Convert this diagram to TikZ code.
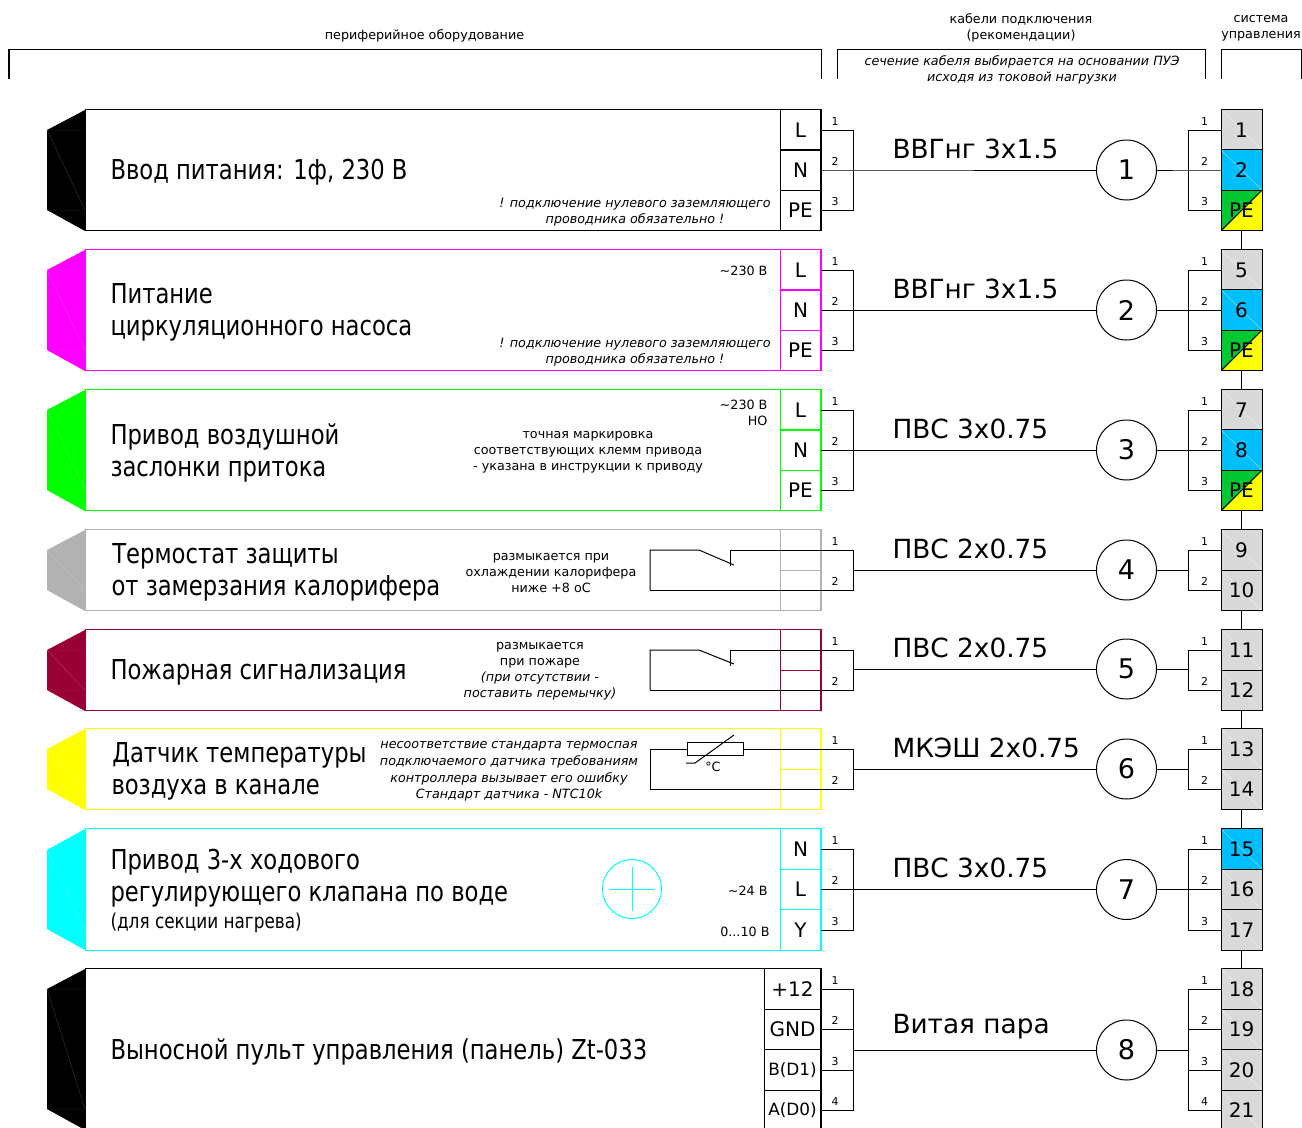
\documentclass[tikz,border=0pt]{standalone}
\usepackage{fontspec}
\setmainfont{DejaVu Sans}
\newfontfamily\titlefont[FakeStretch=.92]{DejaVu Sans Condensed}
\usetikzlibrary{positioning,calc}
\definecolor{fireRed}{HTML}{990033}
\definecolor{greyRow}{HTML}{B2B2B2}
\definecolor{pinkRow}{HTML}{FF00FF}
\definecolor{greenRow}{HTML}{00FF00}
\definecolor{yellowRow}{HTML}{FFFF00}
\definecolor{cyanRow}{HTML}{00FFFF}
\definecolor{cellGrey}{HTML}{D9D9D9}
\definecolor{cellBlue}{HTML}{00BFFF}
\definecolor{cellGreen}{HTML}{00C832}
\newcommand{\smallf}{\fontsize{7.25}{9.1}\selectfont}
\tikzset{
	rowbox/.style={draw,fill=white,anchor=north west,minimum width=14.72cm,inner sep=0,outer sep=0},
	cellbox/.style={draw,minimum width=.82cm,minimum height=.81cm,inner sep=0,outer sep=0,font=\fontsize{11.4}{13}\selectfont},
	widecell/.style={cellbox,minimum width=1.14cm},
	termcell/.style={cellbox,draw=black,fill=cellGrey,path picture={\draw[white,opacity=.5,line width=.3pt] (path picture bounding box.north west) -- (path picture bounding box.south east);}},
	bluecell/.style={termcell,fill=cellBlue},
	pecell/.style={cellbox,draw=black,path picture={
		\fill[yellowRow] (path picture bounding box.north west) rectangle (path picture bounding box.south east);
		\fill[cellGreen] (path picture bounding box.north west) -- (path picture bounding box.north east) -- (path picture bounding box.south west) -- cycle;
		\draw[black] (path picture bounding box.north east) -- (path picture bounding box.south west);}},
	wirecirc/.style={draw,circle,fill=white,minimum size=1.2cm,inner sep=0,outer sep=0,font=\fontsize{15.4}{18}\selectfont},
	titletext/.style={anchor=west,align=left,inner sep=0,font=\titlefont\fontsize{15.6}{18.2}\selectfont},
	cabletext/.style={anchor=west,inner sep=0,font=\fontsize{15}{18}\selectfont},
	notetext/.style={align=center,inner sep=0,font=\smallf},
	notert/.style={align=right,anchor=east,inner sep=0,font=\smallf},
	wirenum/.style={above=2.4pt,inner sep=0,font=\fontsize{6.2}{7}\selectfont},
}
\newcommand{\drawcirc}{\node[wirecirc]}
\newcommand{\drawcell}{\node[cellbox]}
\newcommand{\drawterm}{\node[termcell]}
% colour, then y of the four corners
\newcommand{\drawwedge}[5]{
	\fill[#1] (85,#2) -- (47,#3) -- (47,#4) -- (85,#5) -- cycle;
	\draw[white,opacity=.2,line width=.25pt] (47,#3) -- (85,#3) (47,#3) -- (85,#4) -- (47,#4);
}

\begin{document}
\begin{tikzpicture}[x=.02cm,y=-.02cm,line width=.57pt]
	\useasboundingbox (0,0) rectangle (1302,1127);
	\clip (0,0) rectangle (1302,1127);

	%header
	\draw (9,79) -- (9,49) -- (821,49) -- (821,79);
	\draw (837,79) -- (837,49) -- (1205,49) -- (1205,79);
	\draw (1221,79) -- (1221,49) -- (1301,49) -- (1301,79);
	\node[notetext] (headperi) at (424.5,36) {периферийное оборудование};
	\node[notetext] (headcable) at (1021,28) {кабели подключения\\(рекомендации)};
	\node[notetext] (headsys) at (1261,28) {система\\управления};
	\node[notetext,font=\smallf\itshape] (headnote) at (1022,70) {сечение кабеля выбирается на основании ПУЭ\\исходя из токовой нагрузки};

	%row 1
	\drawwedge{black}{110}{130}{210}{231}
	\node[rowbox,minimum height=2.42cm] (body1) at (85,109.75) {};
	\drawcell (la1) at (800.5,130) {L};
	\drawcell (lb1) at (800.5,170) {N};
	\drawcell (lc1) at (800.5,210.5) {PE};
	\node[titletext] (title1) at (110,172) {Ввод питания: 1ф, 230 В};
	\node[notetext,font=\smallf\itshape] (note1) at (635,212) {! подключение нулевого заземляющего\\проводника обязательно !};
	\node[cabletext] (cable1) at (892,149) {ВВГнг 3х1.5};
	\drawcirc (c1) at (1126.5,170) {1};
	\drawterm (ra1) at (1241.5,130) {1};
	\node[bluecell] (rb1) at (1241.5,170) {2};
	\node[pecell] (rc1) at (1241.5,210.5) {PE};
	\coordinate (busl1) at (853,170);
	\coordinate (busr1) at (1188,170);
	\draw (la1.east) -| node[wirenum,pos=.22] (wla1) {1} (busl1);
	\draw (lb1.east) -- node[wirenum,pos=.44] (wlb1) {2} (busl1) -- (c1);
	\draw (lc1.east) -| node[wirenum,pos=.22] (wlc1) {3} (busl1);
	\draw (ra1.west) -| node[wirenum,pos=.25] (wra1) {1} (busr1);
	\draw (rb1.west) -- node[wirenum] (wrb1) {2} (busr1) -- (c1);
	\draw (rc1.west) -| node[wirenum,pos=.25] (wrc1) {3} (busr1);

	%row 2
	\drawwedge{pinkRow}{250}{270}{350}{371}
	\node[rowbox,draw=pinkRow,minimum height=2.42cm] (body2) at (85,249.75) {};
	\drawcell[draw=pinkRow] (la2) at (800.5,270) {L};
	\drawcell[draw=pinkRow] (lb2) at (800.5,310) {N};
	\drawcell[draw=pinkRow] (lc2) at (800.5,350.5) {PE};
	\node[titletext] (title2) at (110,312) {Питание\\циркуляционного насоса};
	\node[notert] (volt2) at (768,271) {\textasciitilde230 В};
	\node[notetext,font=\smallf\itshape] (note2) at (635,352) {! подключение нулевого заземляющего\\проводника обязательно !};
	\node[cabletext] (cable2) at (892,289) {ВВГнг 3х1.5};
	\drawcirc (c2) at (1126.5,310) {2};
	\drawterm (ra2) at (1241.5,270) {5};
	\node[bluecell] (rb2) at (1241.5,310) {6};
	\node[pecell] (rc2) at (1241.5,350.5) {PE};
	\coordinate (busl2) at (853,310);
	\coordinate (busr2) at (1188,310);
	\draw (la2.east) -| node[wirenum,pos=.22] (wla2) {1} (busl2);
	\draw (lb2.east) -- node[wirenum,pos=.44] (wlb2) {2} (busl2) -- (c2);
	\draw (lc2.east) -| node[wirenum,pos=.22] (wlc2) {3} (busl2);
	\draw (ra2.west) -| node[wirenum,pos=.25] (wra2) {1} (busr2);
	\draw (rb2.west) -- node[wirenum] (wrb2) {2} (busr2) -- (c2);
	\draw (rc2.west) -| node[wirenum,pos=.25] (wrc2) {3} (busr2);
	\draw (rc1.south) -- (ra2.north);

	%row 3
	\drawwedge{greenRow}{390}{410}{490}{511}
	\node[rowbox,draw=greenRow,minimum height=2.42cm] (body3) at (85,389.75) {};
	\drawcell[draw=greenRow] (la3) at (800.5,410) {L};
	\drawcell[draw=greenRow] (lb3) at (800.5,450) {N};
	\drawcell[draw=greenRow] (lc3) at (800.5,490.5) {PE};
	\node[titletext] (title3) at (110,453) {Привод воздушной\\заслонки притока};
	\node[notert] (volt3) at (768,413) {\textasciitilde230 В\\НО};
	\node[notetext] (note3) at (588,452) {точная маркировка\\соответствующих клемм привода\\- указана в инструкции к приводу};
	\node[cabletext] (cable3) at (892,429) {ПВС 3х0.75};
	\drawcirc (c3) at (1126.5,450) {3};
	\drawterm (ra3) at (1241.5,410) {7};
	\node[bluecell] (rb3) at (1241.5,450) {8};
	\node[pecell] (rc3) at (1241.5,490.5) {PE};
	\coordinate (busl3) at (853,450);
	\coordinate (busr3) at (1188,450);
	\draw (la3.east) -| node[wirenum,pos=.22] (wla3) {1} (busl3);
	\draw (lb3.east) -- node[wirenum,pos=.44] (wlb3) {2} (busl3) -- (c3);
	\draw (lc3.east) -| node[wirenum,pos=.22] (wlc3) {3} (busl3);
	\draw (ra3.west) -| node[wirenum,pos=.25] (wra3) {1} (busr3);
	\draw (rb3.west) -- node[wirenum] (wrb3) {2} (busr3) -- (c3);
	\draw (rc3.west) -| node[wirenum,pos=.25] (wrc3) {3} (busr3);
	\draw (rc2.south) -- (ra3.north);

	%row 4
	\drawwedge{greyRow}{530}{550}{590}{611}
	\node[rowbox,draw=greyRow,minimum height=1.62cm] (body4) at (85,529.75) {};
	\drawcell[draw=greyRow] (la4) at (800.5,550) {};
	\drawcell[draw=greyRow] (lb4) at (800.5,590.5) {};
	\node[titletext] (title4) at (111,572) {\hspace{.5pt}Термостат защиты\\от замерзания калорифера};
	\node[notetext] (note4) at (551,573) {размыкается при\\охлаждении калорифера\\ниже +8 оС};
	\node[cabletext] (cable4) at (892,549) {ПВС 2х0.75};
	\drawcirc (c4) at (1126.5,570) {4};
	\drawterm (ra4) at (1241.5,550) {9};
	\drawterm (rb4) at (1241.5,590.5) {10};
	\coordinate (busl4) at (853,570);
	\coordinate (busr4) at (1188,570);
	\coordinate (swa4) at (730,550);
	\coordinate (swb4) at (650,590);
	\draw (swa4) -| node[wirenum,pos=.427] (wla4) {1} (busl4);
	\draw (swb4) -| node[wirenum,pos=.456] (wlb4) {2} (busl4) -- (c4);
	\draw (swb4) -- (650,550) -- (699,550) -- (734,565);
	\draw (swa4) -- (730,566);
	\draw (ra4.west) -| node[wirenum,pos=.25] (wra4) {1} (busr4);
	\draw (rb4.west) -| node[wirenum,pos=.25] (wrb4) {2} (busr4) -- (c4);
	\draw (rc3.south) -- (ra4.north);

	%row 5
	\drawwedge{fireRed}{630}{650}{690}{711}
	\node[rowbox,draw=fireRed,minimum height=1.62cm] (body5) at (85,629.75) {};
	\drawcell[draw=fireRed] (la5) at (800.5,650) {};
	\drawcell[draw=fireRed] (lb5) at (800.5,690.5) {};
	\node[titletext] (title5) at (110,672) {Пожарная сигнализация};
	\node[notetext] (note5) at (540,671.5) {размыкается\\при пожаре\\{\itshape (при отсутствии -}\\{\itshape поставить перемычку)}};
	\node[cabletext] (cable5) at (892,648) {ПВС 2х0.75};
	\drawcirc (c5) at (1126.5,669) {5};
	\drawterm (ra5) at (1241.5,650) {11};
	\drawterm (rb5) at (1241.5,690.5) {12};
	\coordinate (busl5) at (853,669);
	\coordinate (busr5) at (1188,669);
	\coordinate (swa5) at (730,650);
	\coordinate (swb5) at (650,690);
	\draw (swa5) -| node[wirenum,pos=.427] (wla5) {1} (busl5);
	\draw (swb5) -| node[wirenum,pos=.456] (wlb5) {2} (busl5) -- (c5);
	\draw (swb5) -- (650,650) -- (699,650) -- (734,664);
	\draw (swa5) -- (730,666);
	\draw (ra5.west) -| node[wirenum,pos=.25] (wra5) {1} (busr5);
	\draw (rb5.west) -| node[wirenum,pos=.25] (wrb5) {2} (busr5) -- (c5);
	\draw (rb4.south) -- (ra5.north);

	%row 6
	\drawwedge{yellowRow}{729}{749}{789}{810}
	\node[rowbox,draw=yellowRow,minimum height=1.62cm] (body6) at (85,728.75) {};
	\drawcell[draw=yellowRow] (la6) at (800.5,749) {};
	\drawcell[draw=yellowRow] (lb6) at (800.5,789.5) {};
	\node[titletext] (title6) at (111,771) {\hspace{.5pt}Датчик температуры\\воздуха в канале};
	\node[notetext,font=\fontsize{7.25}{9.4}\selectfont\itshape] (note6) at (509,771.5) {несоответствие стандарта термоспая\\подключаемого датчика требованиям\\контроллера вызывает его ошибку\\Стандарт датчика - NTC10k};
	\node[cabletext] (cable6) at (892,748) {МКЭШ 2х0.75};
	\drawcirc (c6) at (1126.5,769) {6};
	\drawterm (ra6) at (1241.5,749) {13};
	\drawterm (rb6) at (1241.5,789.5) {14};
	\coordinate (busl6) at (853,769);
	\coordinate (busr6) at (1188,769);
	\node[draw,minimum width=1.12cm,minimum height=.27cm,inner sep=0,outer sep=0] (therm6) at (715,749) {};
	\coordinate (swb6) at (650,789);
	\draw (therm6.east) -| node[wirenum,pos=.418] (wla6) {1} (busl6);
	\draw (swb6) -| node[wirenum,pos=.456] (wlb6) {2} (busl6) -- (c6);
	\draw (swb6) -- (650,749) -- (therm6.west);
	\draw (686,763) -- (695,763) -- (734,735);
	\node[notetext] (unit6) at (713,767) {°C};
	\draw (ra6.west) -| node[wirenum,pos=.25] (wra6) {1} (busr6);
	\draw (rb6.west) -| node[wirenum,pos=.25] (wrb6) {2} (busr6) -- (c6);
	\draw (rb5.south) -- (ra6.north);

	%row 7
	\drawwedge{cyanRow}{829}{850}{929}{950}
	\node[rowbox,draw=cyanRow,minimum height=2.43cm] (body7) at (85,828.75) {};
	\drawcell[draw=cyanRow] (la7) at (800.5,849) {N};
	\drawcell[draw=cyanRow] (lb7) at (800.5,889.5) {L};
	\drawcell[draw=cyanRow] (lc7) at (800.5,930) {Y};
	\node[titletext] (title7) at (110,878) {Привод 3-х ходового\\регулирующего клапана по воде};
	\node[titletext,font=\titlefont\fontsize{11.6}{14}\selectfont] (sub7) at (110,923) {(для секции нагрева)};
	\node[draw=cyanRow,circle,minimum size=1.18cm,inner sep=0] (valve7) at (632,889) {};
	\draw[cyanRow] ($(valve7.center)+(-22,0)$) -- ($(valve7.center)+(22,0)$);
	\draw[cyanRow] ($(valve7.center)+(0,-22)$) -- ($(valve7.center)+(0,22)$);
	\node[notert] (volt7) at (768,891) {\textasciitilde24 В};
	\node[notert] (range7) at (770,932) {0...10 В};
	\node[cabletext] (cable7) at (892,868) {ПВС 3х0.75};
	\drawcirc (c7) at (1126.5,889.5) {7};
	\node[bluecell] (ra7) at (1241.5,849) {15};
	\drawterm (rb7) at (1241.5,889.5) {16};
	\drawterm (rc7) at (1241.5,930) {17};
	\coordinate (busl7) at (853,889.5);
	\coordinate (busr7) at (1188,889.5);
	\draw (la7.east) -| node[wirenum,pos=.22] (wla7) {1} (busl7);
	\draw (lb7.east) -- node[wirenum,pos=.44] (wlb7) {2} (busl7) -- (c7);
	\draw (lc7.east) -| node[wirenum,pos=.22] (wlc7) {3} (busl7);
	\draw (ra7.west) -| node[wirenum,pos=.25] (wra7) {1} (busr7);
	\draw (rb7.west) -- node[wirenum] (wrb7) {2} (busr7) -- (c7);
	\draw (rc7.west) -| node[wirenum,pos=.25] (wrc7) {3} (busr7);
	\draw (rb6.south) -- (ra7.north);

	%row 8
	\drawwedge{black}{969}{989}{1109}{1130}
	\node[rowbox,minimum height=3.24cm] (body8) at (85,968.75) {};
	\node[widecell] (la8) at (792.5,989) {+12};
	\node[widecell] (lb8) at (792.5,1029.5) {GND};
	\node[widecell,font=\fontsize{9.6}{11}\selectfont] (lc8) at (792.5,1070) {B(D1)};
	\node[widecell,font=\fontsize{9.6}{11}\selectfont] (ld8) at (792.5,1110.5) {A(D0)};
	\node[titletext] (title8) at (110,1052) {Выносной пульт управления (панель) Zt-033};
	\node[cabletext] (cable8) at (892,1027) {Витая пара};
	\drawcirc (c8) at (1126.5,1050) {8};
	\drawterm (ra8) at (1241.5,989) {18};
	\drawterm (rb8) at (1241.5,1029.5) {19};
	\drawterm (rc8) at (1241.5,1070) {20};
	\drawterm (rd8) at (1241.5,1110.5) {21};
	\coordinate (busl8) at (853,1050);
	\coordinate (busr8) at (1188,1050);
	\draw (la8.east) -| node[wirenum,pos=.22] (wla8) {1} (busl8);
	\draw (lb8.east) -| node[wirenum,pos=.22] (wlb8) {2} (busl8);
	\draw (lc8.east) -| node[wirenum,pos=.22] (wlc8) {3} (busl8);
	\draw (ld8.east) -| node[wirenum,pos=.22] (wld8) {4} (busl8);
	\draw (busl8) -- (c8);
	\draw (ra8.west) -| node[wirenum,pos=.25] (wra8) {1} (busr8);
	\draw (rb8.west) -| node[wirenum,pos=.25] (wrb8) {2} (busr8);
	\draw (rc8.west) -| node[wirenum,pos=.25] (wrc8) {3} (busr8);
	\draw (rd8.west) -| node[wirenum,pos=.25] (wrd8) {4} (busr8);
	\draw (busr8) -- (c8);
	\draw (rc7.south) -- (ra8.north);

\end{tikzpicture}
\end{document}
